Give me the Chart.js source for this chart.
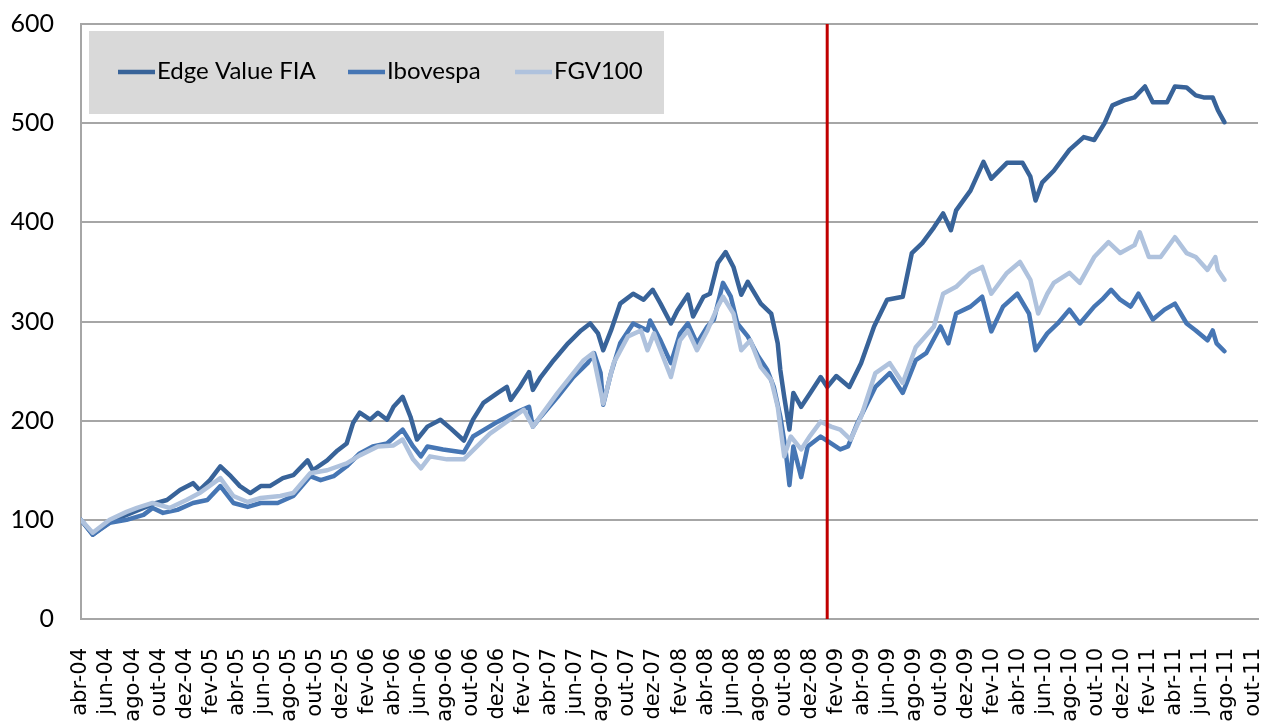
<!DOCTYPE html>
<html>
<head>
<meta charset="utf-8">
<script src="https://cdn.jsdelivr.net/npm/chart.js@4.4.0/dist/chart.umd.min.js"></script>
<style>
  html, body { margin: 0; padding: 0; background: #fff; }
</style>
</head>
<body>
<canvas id="myChart" width="1266" height="726"></canvas>
<script>
// eixo x em meses contados a partir de abr-04
const tickLabels = [
    'abr-04', 'jun-04', 'ago-04', 'out-04', 'dez-04',
    'fev-05', 'abr-05', 'jun-05', 'ago-05', 'out-05', 'dez-05',
    'fev-06', 'abr-06', 'jun-06', 'ago-06', 'out-06', 'dez-06',
    'fev-07', 'abr-07', 'jun-07', 'ago-07', 'out-07', 'dez-07',
    'fev-08', 'abr-08', 'jun-08', 'ago-08', 'out-08', 'dez-08',
    'fev-09', 'abr-09', 'jun-09', 'ago-09', 'out-09', 'dez-09',
    'fev-10', 'abr-10', 'jun-10', 'ago-10', 'out-10', 'dez-10',
    'fev-11', 'abr-11', 'jun-11', 'ago-11', 'out-11'
];
const seriesNames = ['Edge Value FIA', 'Ibovespa', 'FGV100'];
const seriesColors = ['#386399', '#4676B4', '#AFC2DD'];
const yTicks = [0, 100, 200, 300, 400, 500, 600];
const markerMonth = 57.3;

const edgeMonths = [0, 0.9, 1.7, 2.5, 3.5, 4.8, 5.8, 6.6, 7.6, 8.6, 9.1, 9.9, 10.7, 11.5, 12.2, 13.0, 13.8, 14.5, 15.5, 16.3,
    17.4, 17.8, 18.9, 19.7, 20.4, 20.9, 21.4, 22.2, 22.8, 23.5, 24.0, 24.7, 25.3, 25.8, 26.6, 27.6, 28.4, 29.4, 30.1, 30.9,
    32.0, 32.7, 33.0, 33.7, 34.4, 34.7, 35.3, 36.3, 37.4, 38.4, 39.1, 39.7, 40.1, 40.7, 41.4, 42.4, 43.2, 43.9, 44.5, 45.3,
    45.8, 46.6, 47.0, 47.8, 48.3, 48.9, 49.5, 50.1, 50.7, 51.2, 52.2, 53.0, 53.5, 53.7, 54.0, 54.4, 54.7, 55.3, 56.0, 56.8,
    57.3, 58.0, 59.0, 59.9, 60.9, 61.9, 63.1, 63.8, 64.6, 65.5, 66.2, 66.8, 67.2, 68.3, 69.3, 69.9, 71.1, 72.3, 72.9, 73.3,
    73.8, 74.7, 75.9, 77.0, 77.8, 78.6, 79.2, 80.1, 80.9, 81.7, 82.3, 83.4, 84.0, 84.9, 85.6, 86.2, 86.9, 87.3, 87.8];
const edgeValues = [100, 85, 93, 100, 105, 112, 117, 120, 130, 137, 130, 140, 154, 144, 134, 127, 134, 134, 142, 145,
    160, 150, 160, 170, 177, 198, 208, 201, 208, 201, 214, 224, 204, 181, 194, 201, 192, 180, 201, 218,
    228, 234, 221, 234, 249, 231, 244, 261, 278, 291, 298, 288, 271, 291, 318, 328, 322, 332, 318, 298,
    311, 327, 305, 325, 328, 359, 370, 355, 327, 340, 318, 308, 278, 251, 224, 191, 228, 214, 228, 244,
    234, 245, 234, 258, 295, 322, 325, 369, 379, 395, 409, 392, 412, 432, 461, 444, 460, 460, 446, 422,
    440, 452, 473, 486, 483, 500, 518, 523, 526, 537, 521, 521, 537, 536, 528, 526, 526, 513, 501];

const iboMonths = [0, 0.9, 2.2, 3.5, 4.8, 5.5, 6.3, 7.4, 8.6, 9.7, 10.7, 11.7, 12.8, 13.8, 15.1, 16.3, 17.6, 18.4, 19.4, 20.4,
    21.4, 22.4, 23.5, 24.7, 25.5, 26.1, 26.6, 27.8, 29.4, 30.1, 32.0, 33.0, 34.4, 34.7, 35.3, 36.6, 37.8, 38.9, 39.4, 39.9,
    40.1, 40.7, 41.4, 42.4, 43.5, 43.7, 44.5, 45.3, 46.0, 46.6, 47.3, 48.1, 48.6, 49.3, 49.9, 50.4, 51.2, 52.0, 52.7, 53.2,
    53.7, 54.1, 54.4, 54.7, 55.3, 55.8, 56.8, 57.6, 58.3, 58.9, 59.6, 61.0, 62.1, 63.1, 64.1, 64.9, 66.0, 66.6, 67.2, 68.3,
    69.2, 69.9, 70.8, 71.9, 72.8, 73.3, 74.2, 75.0, 75.9, 76.7, 77.8, 78.4, 79.1, 79.8, 80.6, 81.2, 82.3, 83.2, 84.0, 84.9,
    85.6, 86.5, 86.9, 87.2, 87.8];
const iboValues = [100, 85, 97, 100, 105, 112, 107, 110, 117, 120, 134, 117, 113, 117, 117, 124, 144, 140, 144, 154,
    167, 174, 177, 191, 174, 164, 174, 171, 168, 184, 199, 206, 214, 194, 204, 224, 244, 258, 268, 248,
    216, 248, 278, 298, 291, 301, 281, 258, 288, 298, 278, 295, 302, 339, 325, 298, 285, 265, 251, 234,
    204, 171, 135, 174, 143, 174, 184, 177, 171, 174, 197, 234, 248, 228, 261, 268, 295, 278, 308, 315,
    325, 290, 315, 328, 308, 271, 288, 298, 312, 298, 315, 322, 332, 322, 315, 328, 302, 312, 318, 298,
    291, 281, 291, 278, 270];

const fgvMonths = [0, 0.9, 2.2, 3.5, 4.3, 5.5, 6.8, 8.1, 9.1, 10.7, 11.7, 12.8, 13.8, 15.3, 16.3, 17.6, 18.9, 20.4, 21.4, 22.8,
    24.0, 24.7, 25.5, 26.1, 26.8, 28.1, 29.4, 31.4, 34.0, 34.7, 36.6, 38.6, 39.3, 40.1, 40.9, 42.0, 43.0, 43.5, 44.0, 44.5,
    45.3, 46.0, 46.6, 47.3, 48.1, 48.9, 49.3, 50.1, 50.7, 51.4, 52.2, 53.0, 53.5, 54.0, 54.5, 55.3, 56.0, 56.8, 57.6, 58.3,
    59.1, 59.9, 61.0, 62.1, 63.1, 64.1, 65.5, 66.2, 67.2, 68.3, 69.2, 69.9, 71.1, 72.1, 72.9, 73.5, 74.2, 74.7, 75.9, 76.7,
    77.8, 78.9, 79.8, 80.9, 81.3, 82.0, 82.9, 84.0, 84.9, 85.6, 86.5, 87.1, 87.3, 87.8];
const fgvValues = [100, 87, 100, 108, 112, 117, 112, 120, 127, 142, 124, 118, 122, 124, 127, 147, 150, 157, 165, 174,
    175, 181, 161, 152, 164, 161, 161, 187, 211, 194, 228, 261, 268, 217, 258, 285, 291, 271, 288, 271,
    244, 281, 291, 271, 291, 315, 325, 308, 271, 281, 254, 241, 214, 164, 184, 171, 185, 199, 194, 191,
    181, 204, 248, 258, 238, 274, 295, 328, 335, 349, 355, 328, 349, 360, 342, 308, 328, 339, 349, 339,
    365, 380, 369, 377, 390, 365, 365, 385, 369, 365, 352, 365, 352, 342];

const toPoints = (months, values) => months.map((m, i) => ({ x: m, y: values[i] }));

// legenda desenhada dentro da area do grafico, como no original
const boxLegend = {
    id: 'boxLegend',
    afterDraw(chart) {
        const ctx = chart.ctx;
        const itemX = [118, 348, 515];
        ctx.save();
        ctx.fillStyle = '#D9D9D9';
        ctx.fillRect(89, 31, 575, 83);
        ctx.font = '24px Lato';
        ctx.textBaseline = 'middle';
        ctx.fillStyle = '#000';
        for (let i = 0; i < seriesNames.length; i++) {
            ctx.strokeStyle = seriesColors[i];
            ctx.lineWidth = 4.5;
            ctx.beginPath();
            ctx.moveTo(itemX[i], 72);
            ctx.lineTo(itemX[i] + 37, 72);
            ctx.stroke();
            ctx.fillText(seriesNames[i], itemX[i] + 39, 71);
        }
        ctx.restore();
    }
};

const ctx = document.getElementById('myChart');
const chartEdge = new Chart(ctx, {
    type: 'line',
    data: {
        datasets: [
            { label: seriesNames[0], data: toPoints(edgeMonths, edgeValues), borderColor: seriesColors[0], order: 2 },
            { label: seriesNames[1], data: toPoints(iboMonths, iboValues), borderColor: seriesColors[1], order: 1 },
            { label: seriesNames[2], data: toPoints(fgvMonths, fgvValues), borderColor: seriesColors[2], order: 0 },
            {
                label: 'marco',
                data: [{ x: markerMonth, y: yTicks[0] }, { x: markerMonth, y: yTicks[yTicks.length - 1] }],
                borderColor: '#C00000', borderWidth: 3, order: -1
            }
        ]
    },
    options: {
        responsive: false,
        animation: false,
        devicePixelRatio: 1,
        layout: { padding: { top: 24, right: 8, left: 0, bottom: 0 } },
        elements: {
            point: { radius: 0 },
            line: { tension: 0, borderWidth: 4.5, borderJoinStyle: 'round', borderCapStyle: 'round', fill: false }
        },
        plugins: { legend: { display: false }, tooltip: { enabled: false } },
        scales: {
            x: {
                type: 'linear',
                min: 0,
                max: 90.38,
                grid: { display: false, drawTicks: false },
                border: { display: true, color: '#A6A6A6', width: 2 },
                ticks: {
                    stepSize: 2,
                    autoSkip: false,
                    includeBounds: false,
                    maxRotation: 90,
                    minRotation: 90,
                    padding: 29,
                    color: '#000',
                    font: { family: 'DejaVu Sans', size: 21 },
                    callback: v => Number.isInteger(v / 2) ? tickLabels[v / 2] : ''
                },
                afterFit: s => { s.height = 107; s.paddingLeft = 0; s.paddingRight = 0; }
            },
            y: {
                min: yTicks[0],
                max: yTicks[yTicks.length - 1],
                grid: { color: '#A6A6A6', lineWidth: 2, drawTicks: false },
                border: { display: true, color: '#A6A6A6', width: 2 },
                ticks: {
                    stepSize: 100,
                    padding: 27,
                    color: '#000',
                    font: { family: 'Lato', size: 25 }
                },
                afterFit: s => { s.width = 81; s.paddingTop = 0; s.paddingBottom = 0; }
            }
        }
    },
    plugins: [boxLegend]
});
</script>
</body>
</html>
